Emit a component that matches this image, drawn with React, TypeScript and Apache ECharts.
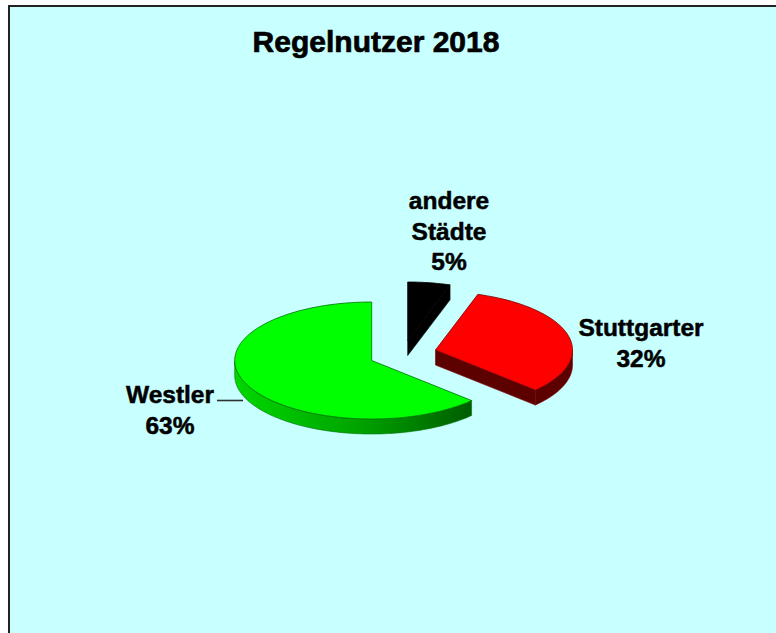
import React, { useEffect, useRef } from "react";
import * as echarts from "echarts";

const titleText = "Regelnutzer 2018";
const sliceNames = ["andere\nStädte", "Stuttgarter", "Westler"];
const sliceValues = [5, 32, 63];
const percentLabels = ["5%", "32%", "63%"];

const RX = 137;
const RY = 58.5;
const DEPTH = 15;
const apexes = [
  [407.7, 340.5],
  [435.5, 350],
  [371.7, 360.5],
];
const labelAnchors = [
  [449, 231],
  [641, 343],
  [170, 410],
];
const topColors = ["#000000", "#ff0000", "#00ff00"];
const edgeColors = ["#000000", "#7a0000", "#007000"];
const drawOrder = [0, 2, 1];
const BG = "#c8ffff";
const FONT = '"Liberation Sans", Arial, sans-serif';

const wallFill = (i: number) =>
  i === 2
    ? new echarts.graphic.LinearGradient(
        234,
        0,
        472,
        0,
        [
          { offset: 0, color: "#00d800" },
          { offset: 0.55, color: "#00a000" },
          { offset: 1, color: "#005c00" },
        ],
        true
      )
    : i === 1
    ? "#5c0000"
    : "#000000";

function sliceGeometry(dataIndex: number) {
  const total = sliceValues.reduce((a, b) => a + b, 0);
  const before = sliceValues.slice(0, dataIndex).reduce((a, b) => a + b, 0);
  const start = (before / total) * Math.PI * 2;
  const end = ((before + sliceValues[dataIndex]) / total) * Math.PI * 2;
  const [cx, cy] = apexes[dataIndex];
  const arc: number[][] = [];
  const steps = Math.max(8, Math.round((end - start) * 40));
  for (let k = 0; k <= steps; k++) {
    const a = start + ((end - start) * k) / steps;
    arc.push([cx + RX * Math.sin(a), cy - RY * Math.cos(a)]);
  }
  return { apex: [cx, cy], arc };
}

const shift = (p: number[]) => [p[0], p[1] + DEPTH];

function renderSlice(_params: any, api: any) {
  const i = api.value(0) as number;
  const { apex, arc } = sliceGeometry(i);
  const children: any[] = [];

  // outer wall: the part of the rim that moves leftwards on screen faces the viewer
  const visible = arc.filter((p, k) => {
    const a = arc[k - 1];
    const b = arc[k + 1];
    return (a && a[0] > p[0]) || (b && p[0] > b[0]);
  });
  if (visible.length > 1) {
    children.push({
      type: "polygon",
      shape: { points: [...visible, ...visible.slice().reverse().map(shift)] },
      style: { fill: wallFill(i), stroke: edgeColors[i], lineWidth: 0.6 },
    });
  }
  // radial wall running from the end of the rim back to the apex
  const last = arc[arc.length - 1];
  if (last[0] > apex[0] + 0.5) {
    children.push({
      type: "polygon",
      shape: { points: [last, apex, shift(apex), shift(last)] },
      style: { fill: wallFill(i), stroke: edgeColors[i], lineWidth: 0.6 },
    });
  }
  children.push({
    type: "polygon",
    shape: { points: [apex, ...arc] },
    style: { fill: topColors[i], stroke: edgeColors[i], lineWidth: 0.8 },
  });
  return { type: "group", children };
}

function renderLabel(_params: any, api: any) {
  const i = api.value(0) as number;
  const [x, y] = labelAnchors[i];
  return {
    type: "text",
    x,
    y,
    style: {
      text: `${sliceNames[i]}\n${percentLabels[i]}`,
      fill: "#000000",
      stroke: "#000000",
      lineWidth: 0.5,
      font: `bold 24.5px ${FONT}`,
      lineHeight: 30.5,
      align: "center",
      verticalAlign: "middle",
    },
  };
}

export default function App() {
  const ref = useRef<HTMLDivElement>(null);
  useEffect(() => {
    document.body.style.margin = "0";
    const chart = echarts.init(ref.current!, undefined, { renderer: "svg" });
    chart.setOption({
      animation: false,
      backgroundColor: "#ffffff",
      title: {
        text: titleText,
        left: 371,
        top: 21,
        textAlign: "center",
        textStyle: {
          fontFamily: FONT,
          fontSize: 30,
          fontWeight: "bold",
          color: "#000000",
          textBorderColor: "#000000",
          textBorderWidth: 0.7,
        },
      },
      graphic: [
        {
          type: "rect",
          z: -10,
          shape: { x: 9, y: 6, width: 790, height: 650 },
          style: { fill: BG, stroke: "#222222", lineWidth: 2 },
          silent: true,
        },
        {
          type: "line",
          z: 5,
          shape: { x1: 217, y1: 400.5, x2: 243, y2: 400.5 },
          style: { stroke: "#333333", lineWidth: 1.6 },
          silent: true,
        },
      ],
      series: [
        {
          type: "custom",
          coordinateSystem: "none",
          silent: true,
          renderItem: renderSlice,
          data: drawOrder.map((i) => [i, sliceValues[i]]),
          encode: { value: 1 },
          z: 2,
        },
        {
          type: "custom",
          coordinateSystem: "none",
          silent: true,
          renderItem: renderLabel,
          data: sliceValues.map((v, i) => [i, v]),
          encode: { value: 1 },
          z: 3,
        },
      ],
    });
    return () => chart.dispose();
  }, []);
  return <div ref={ref} style={{ width: 776, height: 633 }} />;
}
